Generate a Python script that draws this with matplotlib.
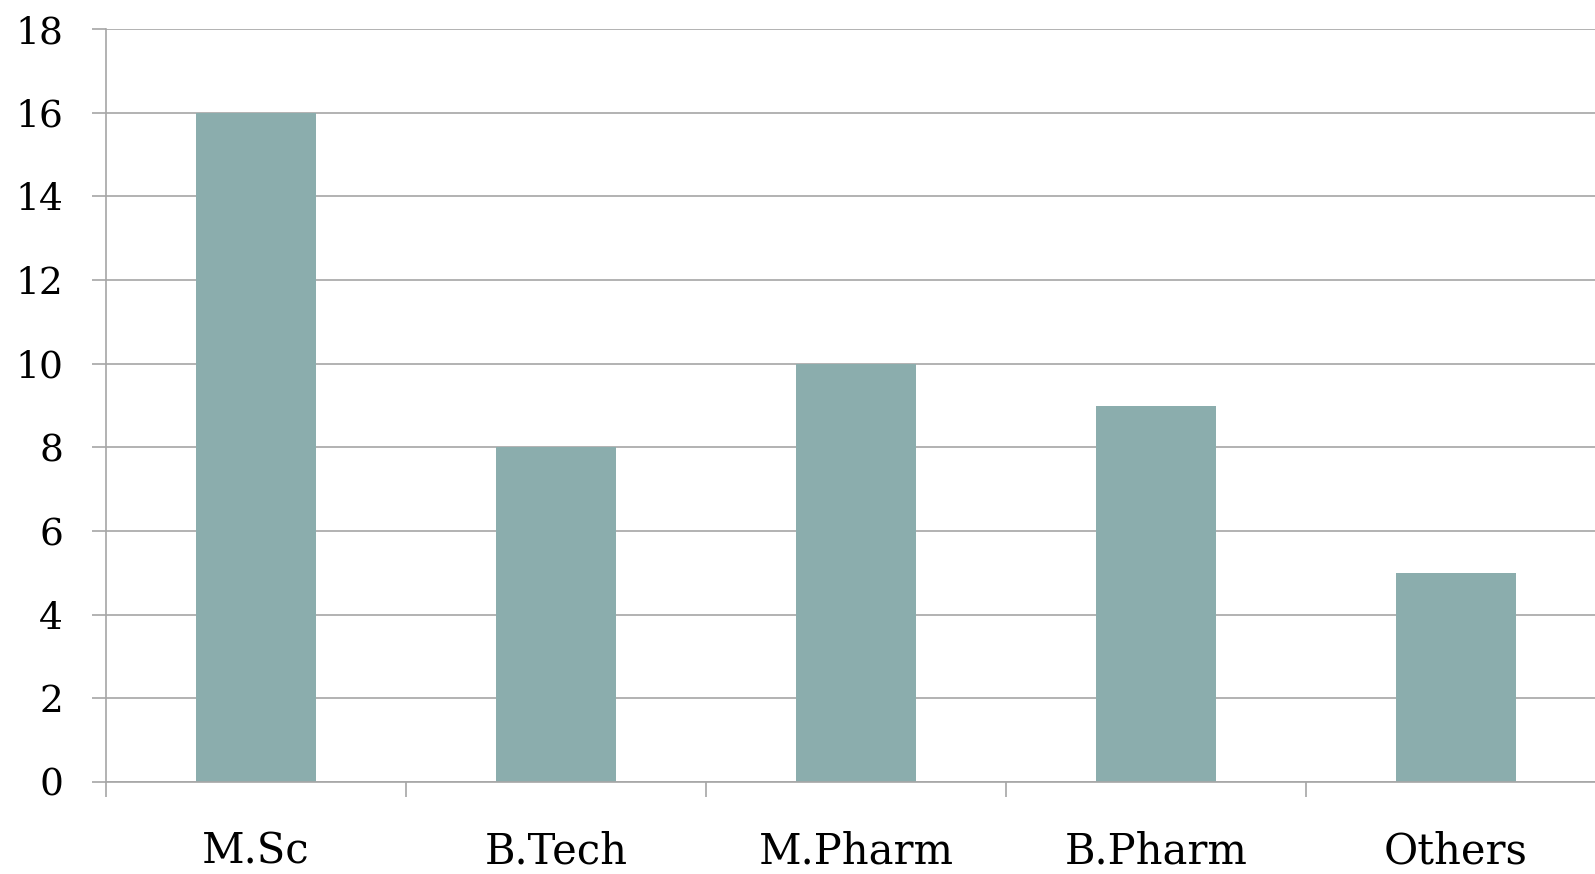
import matplotlib.pyplot as plt

categories = ["M.Sc", "B.Tech", "M.Pharm", "B.Pharm", "Others"]
counts = [16, 8, 10, 9, 5]
yticks = [0, 2, 4, 6, 8, 10, 12, 14, 16, 18]

W, H = 1595, 874
fig = plt.figure(figsize=(W / 100, H / 100), dpi=100)
# plot area runs past the right edge of the figure, so the last gridlines get cut off
ax = fig.add_axes([106 / W, 1 - 782 / H, 1500 / W, 753 / H])

x = range(len(categories))
ax.bar(x, counts, width=0.4, color="#8BADAD", zorder=2)

ax.set_xlim(-0.5, len(categories) - 0.5)
ax.set_ylim(0, 18)
ax.set_yticks(yticks)
ax.set_yticklabels([str(v) for v in yticks], fontsize=27, family="DejaVu Serif")

ax.set_xticks([i + 0.5 for i in range(-1, len(categories))])
ax.set_xticklabels([])
ax.set_xticks(list(x), minor=True)
ax.set_xticklabels(categories, minor=True, fontsize=30, family="DejaVu Serif")
ax.tick_params(axis="x", which="major", length=11, color="#A6A6A6", width=1.2)
ax.tick_params(axis="x", which="minor", length=0, pad=35)
ax.tick_params(axis="y", length=10, color="#A6A6A6", width=1.2, pad=21)

ax.yaxis.grid(True, color="#A6A6A6", linewidth=1.2, zorder=0)
for side in ["top", "right"]:
    ax.spines[side].set_visible(False)
for side in ["left", "bottom"]:
    ax.spines[side].set_color("#A6A6A6")
    ax.spines[side].set_linewidth(1.2)

fig.savefig("out.png", dpi=100)
